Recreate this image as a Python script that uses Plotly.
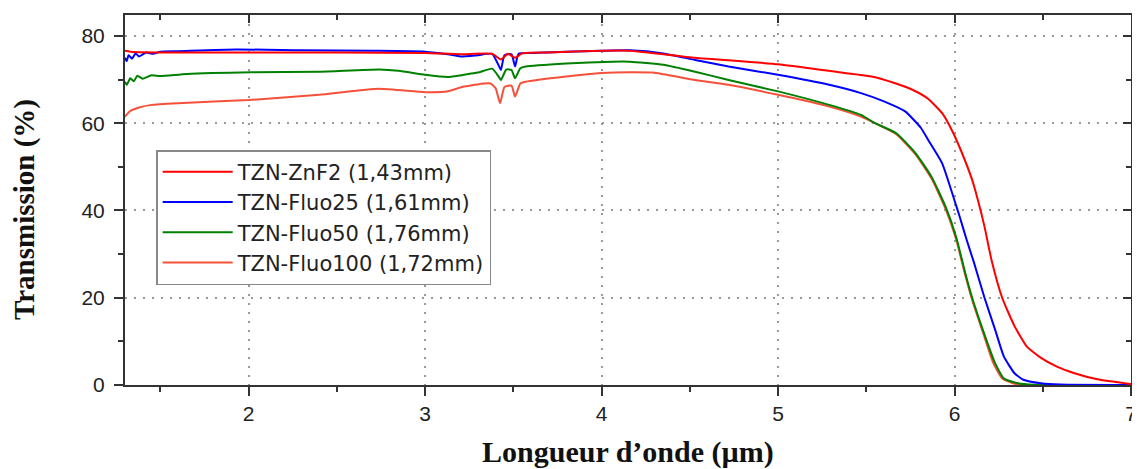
import plotly.graph_objects as go

# ---------------- data ----------------
names = ["TZN-ZnF2 (1,43mm)", "TZN-Fluo25 (1,61mm)", "TZN-Fluo50 (1,76mm)", "TZN-Fluo100 (1,72mm)"]
colors = ["#ff0000", "#0000ff", "#008000", "#f5503a"]

x_znf2 = [1.30, 1.35, 1.5, 2.0, 2.5, 3.0, 3.2, 3.38, 3.43, 3.47, 3.51, 3.55, 3.7, 4.0, 4.16, 4.53,
          5.0, 5.29, 5.53, 5.66, 5.77, 5.85, 5.93, 5.99, 6.04, 6.10, 6.135, 6.17, 6.21, 6.27, 6.34,
          6.41, 6.49, 6.58, 6.68, 6.81, 7.0]
y_znf2 = [76.6, 76.3, 76.2, 76.2, 76.2, 76.1, 75.8, 75.9, 74.6, 75.9, 75.0, 76.0, 76.2, 76.6, 76.6, 75.0,
          73.5, 72.0, 70.7, 69.2, 67.5, 65.6, 62.3, 58.0, 53.4, 47.0, 42.0, 36.3, 28.6, 20.0, 13.5,
          8.8, 6.2, 4.2, 2.7, 1.3, 0.2]

x_f25 = [1.30, 1.31, 1.32, 1.34, 1.36, 1.38, 1.42, 1.46, 1.5, 1.6, 1.93, 2.3, 2.7, 3.0, 3.13, 3.2,
         3.3, 3.38, 3.42, 3.43, 3.45, 3.49, 3.51, 3.53, 3.6, 4.0, 4.16, 4.35, 4.53, 4.72, 5.0, 5.29,
         5.47, 5.6, 5.72, 5.81, 5.85, 5.93, 6.0, 6.03, 6.07, 6.11, 6.17, 6.23, 6.28, 6.34, 6.39,
         6.49, 6.6, 7.0]
y_f25 = [75.0, 74.2, 75.6, 74.8, 76.0, 75.3, 76.2, 75.9, 76.4, 76.5, 76.9, 76.7, 76.6, 76.4, 75.8, 75.3,
         75.6, 75.9, 73.0, 72.2, 75.6, 75.8, 73.0, 75.9, 76.1, 76.6, 76.7, 76.0, 74.5, 73.0, 71.1, 68.8,
         66.9, 65.0, 62.7, 58.9, 56.2, 50.8, 42.3, 38.5, 33.1, 28.1, 20.0, 12.7, 6.5, 2.7, 1.2,
         0.4, 0.1, 0.0]

x_f50 = [1.30, 1.31, 1.33, 1.35, 1.37, 1.40, 1.45, 1.5, 1.65, 2.02, 2.4, 2.74, 2.85, 3.0, 3.13, 3.22,
         3.3, 3.38, 3.42, 3.43, 3.46, 3.49, 3.51, 3.54, 3.57, 3.8, 4.06, 4.16, 4.35, 4.53, 4.72, 5.0,
         5.29, 5.47, 5.55, 5.67, 5.78, 5.87, 5.95, 6.01, 6.06, 6.1, 6.16, 6.23, 6.28, 6.36, 6.45, 7.0]
y_f50 = [69.5, 68.8, 70.3, 69.6, 70.9, 70.2, 71.0, 70.8, 71.3, 71.7, 71.8, 72.3, 72.0, 71.1, 70.6, 71.1,
         71.6, 72.5, 70.5, 69.9, 72.3, 72.2, 70.3, 72.6, 73.0, 73.7, 74.1, 74.1, 73.4, 71.8, 69.9, 67.3,
         64.2, 61.9, 60.0, 57.7, 53.1, 47.7, 40.8, 33.8, 25.8, 20.0, 12.7, 5.0, 1.5, 0.4, 0.05, 0.0]

x_f100 = [1.30, 1.33, 1.38, 1.45, 1.6, 2.0, 2.4, 2.74, 3.0, 3.13, 3.22, 3.37, 3.40, 3.425, 3.45, 3.49,
          3.51, 3.54, 3.57, 3.8, 4.0, 4.16, 4.29, 4.53, 4.72, 5.0, 5.29, 5.47, 5.55, 5.67, 5.78, 5.87,
          5.95, 6.01, 6.06, 6.1, 6.16, 6.22, 6.27, 6.33, 6.4, 7.0]
y_f100 = [61.5, 62.8, 63.6, 64.2, 64.6, 65.3, 66.5, 67.9, 67.1, 67.3, 68.4, 69.1, 68.0, 64.6, 68.3, 68.6,
          66.1, 69.1, 69.5, 70.7, 71.5, 71.7, 71.6, 69.9, 68.8, 66.5, 63.8, 61.5, 60.0, 57.5, 52.8, 47.3,
          40.3, 33.3, 25.3, 19.5, 12.2, 5.0, 1.5, 0.4, 0.05, 0.0]

x_ticks = [2, 3, 4, 5, 6, 7]
y_ticks = [0, 20, 40, 60, 80]

series = [(x_znf2, y_znf2), (x_f25, y_f25), (x_f50, y_f50), (x_f100, y_f100)]

fig = go.Figure()
# draw in reverse so the first series sits on top; legend order kept via legendrank
for i in reversed(range(4)):
    xs, ys = series[i]
    fig.add_trace(go.Scatter(x=xs, y=ys, mode="lines", name=names[i],
                             line=dict(color=colors[i], width=2, shape="spline", smoothing=0.5),
                             legendrank=i + 1))

# empty trace so the mirror axes are drawn
fig.add_trace(go.Scatter(x=[], y=[], xaxis="x2", yaxis="y2", showlegend=False, hoverinfo="skip"))

axis_col = "#333333"
grid_col = "#9a9a9a"
tick_font = dict(family="Liberation Sans, Arial", size=21, color="#222222")

fig.update_layout(
    width=1140, height=461,
    margin=dict(l=117, r=17, t=7, b=84),
    paper_bgcolor="white", plot_bgcolor="white",
    showlegend=True,
    legend=dict(x=0.031, y=0.635, xanchor="left", yanchor="top",
                bgcolor="white", bordercolor="#888888", borderwidth=1.5,
                font=dict(family="DejaVu Sans", size=21, color="#222222"),
                itemwidth=70, entrywidth=306, entrywidthmode="pixels",
                traceorder="normal", tracegroupgap=0),
    xaxis=dict(range=[1.3, 7], tickvals=x_ticks, ticktext=[str(v) for v in x_ticks],
               showgrid=True, gridcolor=grid_col, griddash="2px,7px", gridwidth=2,
               showline=True, linecolor=axis_col, linewidth=2,
               ticks="outside", ticklen=9, tickwidth=2, tickcolor=axis_col,
               minor=dict(dtick=0.5, tick0=0, ticks="outside", ticklen=5, tickwidth=2,
                          tickcolor=axis_col, showgrid=False),
               tickfont=tick_font, ticklabelstandoff=0, ticklabeloverflow="allow",
               zeroline=False, automargin=False),
    yaxis=dict(range=[0, 84.8], tickvals=y_ticks, ticktext=[str(v) for v in y_ticks],
               showgrid=True, gridcolor=grid_col, griddash="2px,7px", gridwidth=2,
               showline=True, linecolor=axis_col, linewidth=2,
               ticks="outside", ticklen=9, tickwidth=2, tickcolor=axis_col,
               minor=dict(dtick=10, tick0=0, ticks="outside", ticklen=5, tickwidth=2,
                          tickcolor=axis_col, showgrid=False),
               tickfont=tick_font, ticklabelstandoff=5, zeroline=False, automargin=False),
    xaxis2=dict(overlaying="x", side="top", matches="x", range=[1.3, 7], tickvals=x_ticks,
                showticklabels=False, showgrid=False, showline=True, linecolor=axis_col, linewidth=2,
                ticks="inside", ticklen=8, tickwidth=2, tickcolor=axis_col,
                minor=dict(dtick=0.5, tick0=0, ticks="inside", ticklen=5, tickwidth=2, tickcolor=axis_col),
                zeroline=False, automargin=False),
    yaxis2=dict(overlaying="y", side="right", matches="y", range=[0, 84.8], tickvals=y_ticks,
                showticklabels=False, showgrid=False, showline=True, linecolor=axis_col, linewidth=2,
                ticks="inside", ticklen=8, tickwidth=2, tickcolor=axis_col,
                minor=dict(dtick=10, tick0=0, ticks="inside", ticklen=5, tickwidth=2, tickcolor=axis_col),
                zeroline=False, automargin=False),
    annotations=[
        dict(text="<b>Longueur d’onde (µm)</b>", xref="paper", yref="paper", x=0.5, y=0,
             yshift=-67, xanchor="center", yanchor="middle", showarrow=False,
             font=dict(family="Liberation Serif, Times New Roman", size=30, color="#111111")),
        dict(text="<b>Transmission (%)</b>", xref="paper", yref="paper", x=0, y=0.473,
             xshift=-100, xanchor="center", yanchor="middle", textangle=-90, showarrow=False,
             font=dict(family="Liberation Serif, Times New Roman", size=29, color="#111111")),
    ],
)

fig.write_html("out.html")
